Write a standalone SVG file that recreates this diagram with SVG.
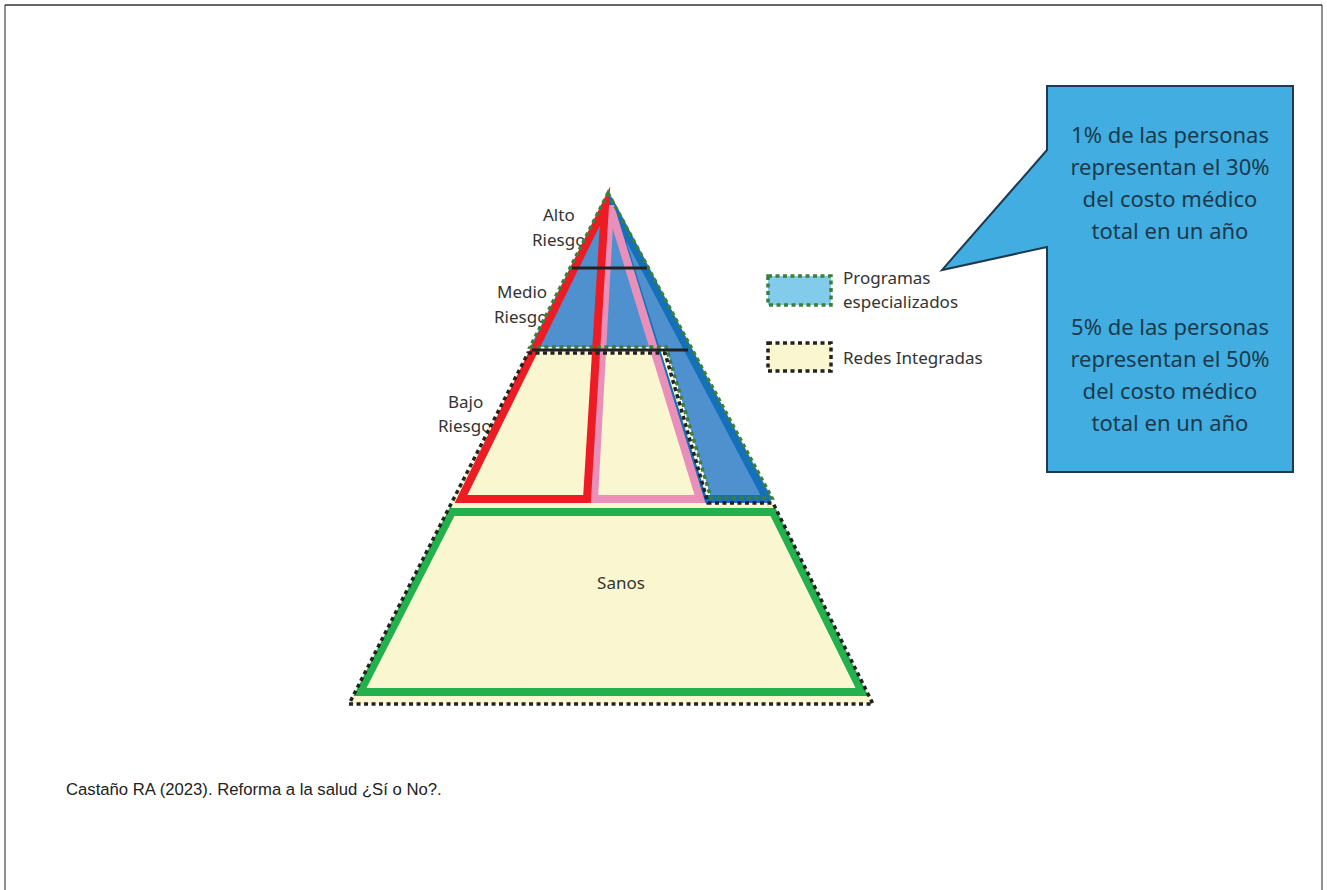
<svg xmlns="http://www.w3.org/2000/svg" width="1327" height="890" viewBox="0 0 1327 890">
<style>
.lbl{font-family:"Noto Sans","Open Sans",sans-serif;font-size:17px;fill:#333}
.call{font-family:"Noto Sans","Open Sans",sans-serif;font-size:22px;fill:#1B3A4E;text-anchor:middle}
.yel{fill:#FAF7D0}
.gdot{fill:none;stroke:#3B7F3B;stroke-width:3.5;stroke-dasharray:4 3.5}
.kdot{fill:none;stroke:#222;stroke-width:3.5;stroke-dasharray:4 3.5}
</style>
<rect width="1327" height="890" fill="#fff"/>
<g id="frame" fill="none">
<line x1="5" y1="5" x2="1322" y2="5" stroke="#666" stroke-width="2"/>
<line x1="5" y1="5" x2="5" y2="890" stroke="#222" stroke-width="1"/>
<line x1="1322" y1="5" x2="1322" y2="890" stroke="#222" stroke-width="1"/>
</g>
<g id="labels">
<text class="lbl" x="543" y="221">Alto</text>
<text class="lbl" x="532" y="246">Riesgo</text>
<text class="lbl" x="497" y="298">Medio</text>
<text class="lbl" x="494" y="323">Riesgo</text>
<text class="lbl" x="448" y="408">Bajo</text>
<text class="lbl" x="438" y="432">Riesgo</text>
</g>
<g id="pyramid">
<polygon id="redes-fill" class="yel" points="528,352 665,352 708,503 773,503 873,704 349,704"/>
<polygon id="sanos" points="452,512 773,512 862,692 360,692" fill="#FAF7D0" stroke="#22B14C" stroke-width="8" stroke-linejoin="miter"/>
<text class="lbl" x="621" y="589" text-anchor="middle">Sanos</text>
<polygon id="programas-fill" points="608,193 772,498 711,498 666,347 530,347" fill="#4F90CE"/>
<polygon id="blue-tri" points="609,200 767,499 703,499" fill="none" stroke="#1570BA" stroke-width="8" stroke-linejoin="round"/>
<polygon id="pink-tri" points="610,206 700,499 594,499" fill="none" stroke="#E890BA" stroke-width="8" stroke-linejoin="miter"/>
<polygon id="red-tri" points="605,206 587,499 461,499" fill="none" stroke="#ED1C24" stroke-width="8" stroke-linejoin="miter" stroke-miterlimit="8"/>
<polygon id="programas-outline" class="gdot" points="608,193 772,498 711,498 666,347 530,347"/>
<polygon id="redes-outline" class="kdot" points="528,353 665,353 708,503 773,503 873,704 349,704"/>
</g>
<g id="connectors" stroke="#222" stroke-width="3">
<line x1="572" y1="268" x2="647" y2="268"/>
<line x1="532" y1="350" x2="688" y2="350"/>
</g>
<g id="legend">
<rect x="768" y="276" width="63" height="29" fill="#83CBEB" stroke="#3B7F3B" stroke-width="3.5" stroke-dasharray="4 3.5"/>
<text class="lbl" x="843" y="284">Programas</text>
<text class="lbl" x="843" y="308">especializados</text>
<rect x="768" y="343" width="63" height="28" fill="#FAF7D0" stroke="#222" stroke-width="3.5" stroke-dasharray="4 3.5"/>
<text class="lbl" x="843" y="364">Redes Integradas</text>
</g>
<g id="callout">
<path d="M1047,86 L1293,86 L1293,472 L1047,472 L1047,247 L942,270 L1047,150 Z" fill="#41ADE0" stroke="#1F3A4D" stroke-width="2" stroke-linejoin="miter"/>
<text class="call" x="1170" y="143">1% de las personas</text>
<text class="call" x="1170" y="175">representan el 30%</text>
<text class="call" x="1170" y="207">del costo médico</text>
<text class="call" x="1170" y="239">total en un año</text>
<text class="call" x="1170" y="335">5% de las personas</text>
<text class="call" x="1170" y="367">representan el 50%</text>
<text class="call" x="1170" y="399">del costo médico</text>
<text class="call" x="1170" y="431">total en un año</text>
</g>
<text id="source" x="66" y="795" font-family="'Liberation Sans',Arial,sans-serif" font-size="16.7" fill="#222">Castaño RA (2023). Reforma a la salud ¿Sí o No?.</text>
</svg>
